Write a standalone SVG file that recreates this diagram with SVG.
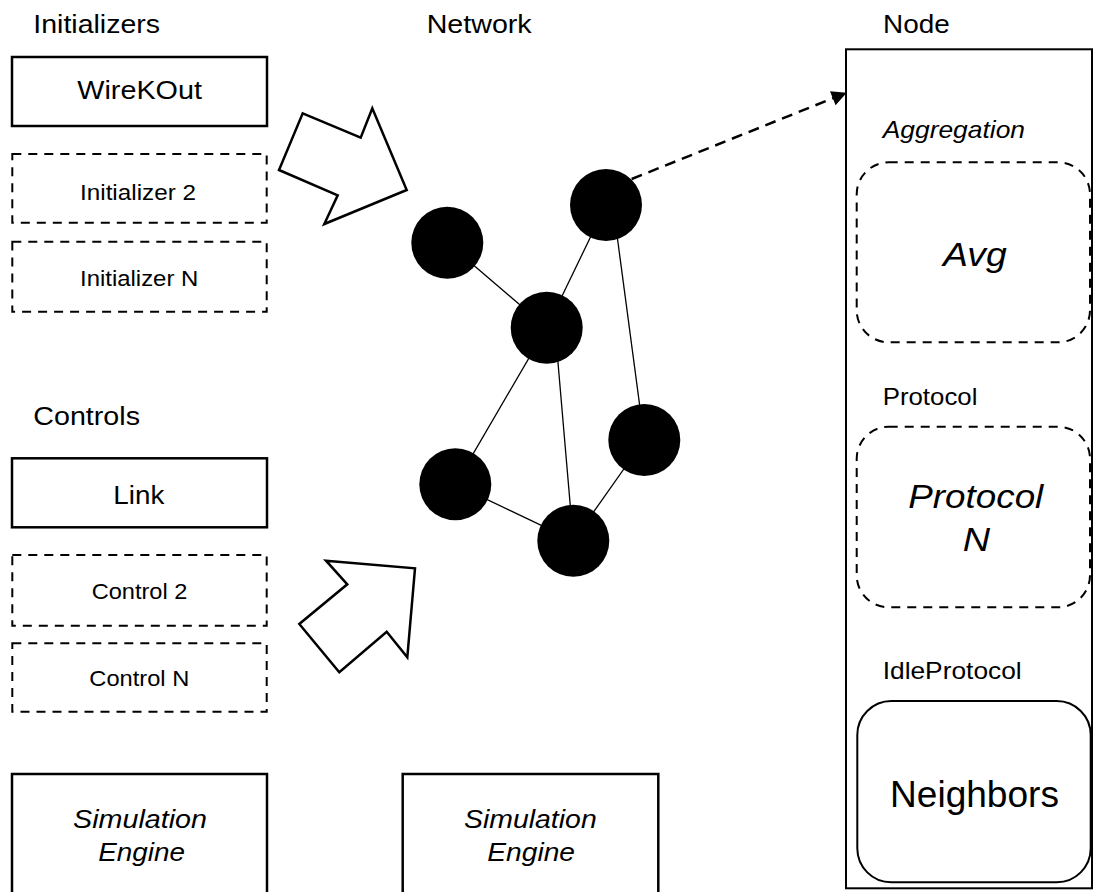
<svg xmlns="http://www.w3.org/2000/svg" width="1093" height="892" viewBox="0 0 1093 892">
<style>
  text { font-family: "Liberation Sans", Arial, sans-serif; fill: #000; }
  .it { font-style: italic; }
  .box { fill: #fff; stroke: #000; stroke-width: 2.5; }
  .dbox { fill: #fff; stroke: #000; stroke-width: 2; stroke-dasharray: 9 7; }
  .edge { stroke: #000; stroke-width: 1.3; fill: none; }
  .vert { fill: #000; }
  .big { fill: #fff; stroke: #000; stroke-width: 2.5; stroke-linejoin: miter; }
</style>
<defs>
  <marker id="ah" viewBox="0 0 10 10" refX="10" refY="5" markerWidth="7" markerHeight="6" markerUnits="strokeWidth" orient="auto">
    <path d="M0,0 L10,5 L0,10 z" fill="#000"/>
  </marker>
</defs>
<rect width="1093" height="892" fill="#fff"/>

<!-- Section headers -->
<g id="headers">
  <text x="33.3" y="33.3" font-size="25.5" textLength="126.7" lengthAdjust="spacingAndGlyphs">Initializers</text>
  <text x="426.7" y="33.3" font-size="25.8" textLength="105" lengthAdjust="spacingAndGlyphs">Network</text>
  <text x="883" y="33.3" font-size="25.2" textLength="66.7" lengthAdjust="spacingAndGlyphs">Node</text>
  <text x="33.3" y="425" font-size="25.8" textLength="106.7" lengthAdjust="spacingAndGlyphs">Controls</text>
</g>

<!-- Initializers -->
<g id="wirekout">
  <rect class="box" x="12" y="57" width="255" height="69"/>
  <text x="77.3" y="99.3" font-size="26" textLength="124.7" lengthAdjust="spacingAndGlyphs">WireKOut</text>
</g>
<g id="initializer2">
  <rect class="dbox" x="12.3" y="154" width="254.4" height="68.7"/>
  <text x="80" y="200" font-size="21.9" textLength="116" lengthAdjust="spacingAndGlyphs">Initializer 2</text>
</g>
<g id="initializerN">
  <rect class="dbox" x="12.3" y="241.7" width="254.4" height="70"/>
  <text x="80" y="285.7" font-size="21.5" textLength="118.3" lengthAdjust="spacingAndGlyphs">Initializer N</text>
</g>

<!-- Controls -->
<g id="link">
  <rect class="box" x="12" y="458.3" width="255" height="69"/>
  <text x="113.3" y="504" font-size="25" textLength="51" lengthAdjust="spacingAndGlyphs">Link</text>
</g>
<g id="control2">
  <rect class="dbox" x="12.3" y="555" width="254.4" height="70.7"/>
  <text x="91.7" y="599.3" font-size="21.3" textLength="95.7" lengthAdjust="spacingAndGlyphs">Control 2</text>
</g>
<g id="controlN">
  <rect class="dbox" x="12.3" y="643.3" width="254.4" height="68.4"/>
  <text x="89.3" y="686" font-size="21.3" textLength="100" lengthAdjust="spacingAndGlyphs">Control N</text>
</g>

<!-- Simulation engines -->
<g id="simengine1">
  <rect class="box" x="12" y="774" width="255" height="140"/>
  <text class="it" x="73" y="828.3" font-size="25.8" textLength="134" lengthAdjust="spacingAndGlyphs">Simulation</text>
  <text class="it" x="98.3" y="861.3" font-size="25.8" textLength="86.7" lengthAdjust="spacingAndGlyphs">Engine</text>
</g>
<g id="simengine2">
  <rect class="box" x="402.7" y="774" width="255.6" height="140"/>
  <text class="it" x="464" y="828.3" font-size="25.8" textLength="132.7" lengthAdjust="spacingAndGlyphs">Simulation</text>
  <text class="it" x="487.3" y="861.3" font-size="25.8" textLength="87.7" lengthAdjust="spacingAndGlyphs">Engine</text>
</g>

<!-- Big block arrows -->
<g id="arrow-init">
  <polygon class="big" points="302.7,113.3 360.7,137.7 372.3,108.3 406.7,190 324.3,224 337.7,195.3 279,170"/>
</g>
<g id="arrow-ctrl">
  <polygon class="big" points="326,560.7 415,568.3 407.3,657.3 386.7,631.7 339.3,672.3 299.3,624 347.3,584.3"/>
</g>

<!-- Node panel -->
<g id="node">
  <rect x="846" y="49.3" width="246" height="839" fill="#fff" stroke="#000" stroke-width="2"/>
</g>
<g id="aggregation">
  <text class="it" x="882.7" y="138.3" font-size="23.8" textLength="142.3" lengthAdjust="spacingAndGlyphs">Aggregation</text>
  <rect class="dbox" x="856.7" y="162.3" width="233.3" height="180" rx="32" ry="32"/>
  <text class="it" x="943" y="265.7" font-size="33.3" textLength="63.7" lengthAdjust="spacingAndGlyphs">Avg</text>
</g>
<g id="protocol">
  <text x="882.7" y="405" font-size="23.2" textLength="94.7" lengthAdjust="spacingAndGlyphs">Protocol</text>
  <rect class="dbox" x="856.7" y="426.7" width="233.3" height="180.6" rx="32" ry="32"/>
  <text class="it" x="908.3" y="508.3" font-size="33.2" textLength="135" lengthAdjust="spacingAndGlyphs">Protocol</text>
  <text class="it" x="962.7" y="550.7" font-size="33.2" textLength="27.3" lengthAdjust="spacingAndGlyphs">N</text>
</g>
<g id="idleprotocol">
  <text x="882.7" y="679.3" font-size="23.7" textLength="139" lengthAdjust="spacingAndGlyphs">IdleProtocol</text>
  <rect x="857.3" y="701" width="233.4" height="181.3" rx="34" ry="34" fill="#fff" stroke="#000" stroke-width="2"/>
  <text x="890" y="806.7" font-size="37" textLength="169" lengthAdjust="spacingAndGlyphs">Neighbors</text>
</g>

<!-- Connectors -->
<g id="connectors">
  <line class="edge" x1="447.3" y1="242.7" x2="546.7" y2="327.7"/>
  <line class="edge" x1="606" y1="205" x2="546.7" y2="327.7"/>
  <line class="edge" x1="613" y1="205" x2="644.3" y2="440"/>
  <line class="edge" x1="546.7" y1="327.7" x2="455.3" y2="484.3"/>
  <line class="edge" x1="555" y1="327.7" x2="573.3" y2="540.7"/>
  <line class="edge" x1="644.3" y1="440" x2="573.3" y2="540.7"/>
  <line class="edge" x1="455.3" y1="484.3" x2="573.3" y2="540.7"/>
  <line x1="631.7" y1="179" x2="846.7" y2="92.7" stroke="#000" stroke-width="2.5" stroke-dasharray="11 7" marker-end="url(#ah)"/>
</g>

<!-- Network vertices -->
<g id="v1"><circle class="vert" cx="447.3" cy="242.7" r="36"/></g>
<g id="v2"><circle class="vert" cx="606" cy="205" r="36"/></g>
<g id="v3"><circle class="vert" cx="546.7" cy="327.7" r="36"/></g>
<g id="v4"><circle class="vert" cx="644.3" cy="440" r="36"/></g>
<g id="v5"><circle class="vert" cx="455.3" cy="484.3" r="36"/></g>
<g id="v6"><circle class="vert" cx="573.3" cy="540.7" r="36"/></g>
</svg>
